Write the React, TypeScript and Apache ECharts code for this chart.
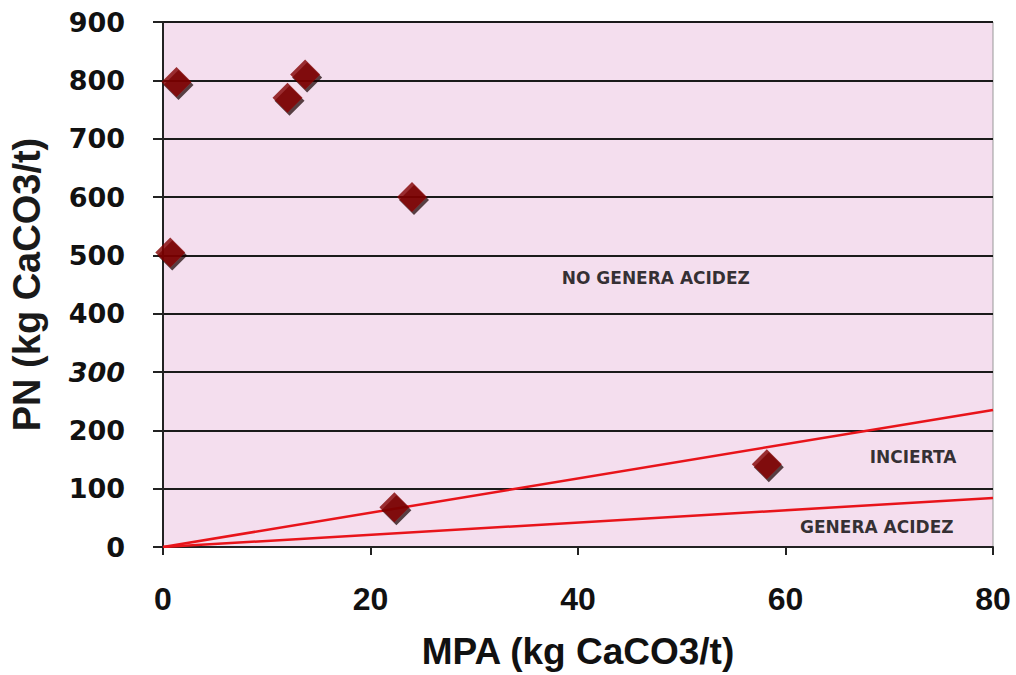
import React, { useEffect, useRef } from "react";
import * as echarts from "echarts";

const samplePoints: [number, number][] = [
  [1.3, 797],
  [12.0, 770],
  [13.7, 810],
  [24.0, 600],
  [0.7, 505],
  [22.3, 68],
  [58.2, 142],
];
const upperLine: [number, number][] = [
  [0, 0],
  [80, 235],
];
const lowerLine: [number, number][] = [
  [0, 0],
  [80, 84],
];
const zoneLabels: [number, number, string][] = [
  [47.5, 462, "NO GENERA ACIDEZ"],
  [72.3, 155, "INCIERTA"],
  [68.8, 34, "GENERA ACIDEZ"],
];
const xTitle = "MPA (kg CaCO3/t)";
const yTitle = "PN (kg CaCO3/t)";

export default function App() {
  const ref = useRef<HTMLDivElement>(null);
  useEffect(() => {
    if (!ref.current) return;
    const chart = echarts.init(ref.current, undefined, { renderer: "svg" });
    chart.setOption({
      animation: false,
      backgroundColor: "#ffffff",
      grid: {
        left: 163,
        right: 23,
        top: 22,
        bottom: 124,
        show: true,
        backgroundColor: "#f4deee",
        borderColor: "#999999",
        borderWidth: 1,
      },
      xAxis: {
        type: "value",
        min: 0,
        max: 80,
        interval: 20,
        name: xTitle,
        nameLocation: "middle",
        nameGap: 86,
        nameTextStyle: {
          fontFamily: "Liberation Sans, Arial, sans-serif",
          fontWeight: "bold",
          fontSize: 37,
          color: "#111",
        },
        axisLine: { show: true, onZero: false, lineStyle: { color: "#222", width: 2 } },
        axisTick: { show: true, length: 8, inside: false, lineStyle: { color: "#222", width: 2 } },
        axisLabel: {
          margin: 36,
          fontFamily: "Liberation Sans, Arial, sans-serif",
          fontWeight: "bold",
          fontSize: 32,
          color: "#111",
        },
        splitLine: { show: false },
      },
      yAxis: {
        type: "value",
        min: 0,
        max: 900,
        interval: 100,
        name: yTitle,
        nameLocation: "middle",
        nameGap: 117,
        nameTextStyle: {
          fontFamily: "Liberation Sans, Arial, sans-serif",
          fontWeight: "bold",
          fontSize: 38,
          color: "#1a1a1a",
        },
        axisLine: { show: true, onZero: false, lineStyle: { color: "#222", width: 2 } },
        axisTick: { show: true, length: 10, lineStyle: { color: "#222", width: 2 } },
        axisLabel: {
          margin: 38,
          fontFamily: "DejaVu Sans, sans-serif",
          fontWeight: "bold",
          fontSize: 27,
          color: "#111",
          formatter: (v: number) => (v === 300 ? "{it|300}" : String(v)),
          rich: {
            it: {
              fontFamily: "DejaVu Sans, sans-serif",
              fontWeight: "bold",
              fontStyle: "italic",
              fontSize: 27,
              color: "#111",
            },
          },
        },
        splitLine: { show: true, lineStyle: { color: "#1a1a1a", width: 2 } },
      },
      series: [
        {
          type: "line",
          data: upperLine,
          symbol: "none",
          lineStyle: { color: "#e8141a", width: 2.5 },
          z: 3,
        },
        {
          type: "line",
          data: lowerLine,
          symbol: "none",
          lineStyle: { color: "#e8141a", width: 2.5 },
          z: 3,
        },
        {
          type: "scatter",
          data: samplePoints,
          symbol: "diamond",
          symbolSize: [30, 30],
          itemStyle: {
            color: "#820505",
            shadowColor: "rgba(20,0,0,0.9)",
            shadowOffsetX: 2,
            shadowOffsetY: 3,
            shadowBlur: 1,
          },
          z: 5,
        },
        {
          type: "scatter",
          data: zoneLabels,
          symbolSize: 0,
          silent: true,
          label: {
            show: true,
            position: "inside",
            formatter: (p: any) => p.data[2],
            fontFamily: "DejaVu Sans, sans-serif",
            fontWeight: "bold",
            fontSize: 17,
            color: "#000",
          },
          z: 6,
        },
      ],
    });
    return () => chart.dispose();
  }, []);
  return <div ref={ref} style={{ width: 1016, height: 675, position: "absolute", left: 0, top: 0 }} />;
}
